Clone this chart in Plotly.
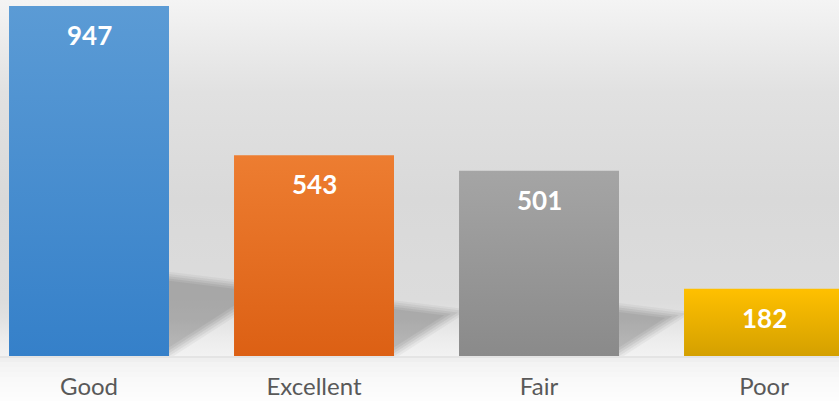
import plotly.graph_objects as go

categories = ["Good", "Excellent", "Fair", "Poor"]
values = [947, 543, 501, 182]
top_colors = ["#5b9bd5", "#ed7d31", "#a5a5a5", "#ffc000"]
bottom_colors = ["#3580c9", "#dc6014", "#8a8a8a", "#d4a000"]

W, H = 839, 401
BAR_W = 0.711
X_RANGE = [-0.3956, 3.3333]
Y_TOP = 963.2
MB = 45

fig = go.Figure()

# background wall gradient
fig.add_trace(go.Scatter(
    x=[X_RANGE[0], X_RANGE[1], X_RANGE[1], X_RANGE[0], X_RANGE[0]],
    y=[0, 0, Y_TOP, Y_TOP, 0], fill="toself", mode="none",
    fillgradient=dict(type="vertical", start=0, stop=Y_TOP,
                      colorscale=[[0, "#f2f2f2"], [0.05, "#ececec"], [0.11, "#e1e1e1"],
                                  [0.16, "#dcdcdc"], [0.44, "#d9d9d9"], [0.74, "#e1e1e1"],
                                  [1, "#f4f4f4"]]),
    hoverinfo="skip", showlegend=False))

# soft shadows behind bars (derived from the bar values)
gap = 1 - BAR_W
RISE, FALL = 390.0, 75.0
for i, v in enumerate(values[:-1]):
    xr = i + BAR_W / 2
    for grow, alpha in [(14, 0.04), (8, 0.05), (2, 0.06), (-4, 0.06), (-10, 0.05)]:
        h = 0.19 * v + 34 + grow
        y0 = 10 - grow * 1.3
        t = (h - y0) / (RISE + FALL)
        if t < gap:
            xs = [xr, xr, xr + t, xr]
            ys = [y0, h, h - FALL * t, y0]
        else:
            xs = [xr, xr, xr + gap, xr + gap, xr]
            ys = [y0, h, h - FALL * gap, y0 + RISE * gap, y0]
        fig.add_trace(go.Scatter(x=xs, y=ys, fill="toself", mode="none",
                                 fillcolor=f"rgba(0,0,0,{alpha})",
                                 hoverinfo="skip", showlegend=False))

# bars with vertical gradients
for i, (v, ct, cb) in enumerate(zip(values, top_colors, bottom_colors)):
    x0, x1 = i - BAR_W / 2, i + BAR_W / 2
    fig.add_trace(go.Scatter(
        x=[x0, x1, x1, x0, x0], y=[0, 0, v, v, 0], fill="toself", mode="none",
        fillgradient=dict(type="vertical", colorscale=[[0, cb], [1, ct]]),
        hoverinfo="skip", showlegend=False, name=categories[i]))
    fig.add_annotation(x=i, y=v, text=f"<b>{v}</b>", showarrow=False,
                       yanchor="middle", yshift=-29,
                       font=dict(family="Lato", size=26, color="white"))

# floor below the baseline
floor_cols = ["#e4e4e4", "#efefef", "#f3f3f3", "#f5f5f5", "#f7f7f7",
              "#f9f9f9", "#fafafa", "#fbfbfb", "#fcfcfc", "#fdfdfd"]
ph = MB / (H - MB)
edges = [0, 2, 6, 11, 16, 21, 26, 31, 36, 41, 45]
for k, c in enumerate(floor_cols):
    fig.add_shape(type="rect", xref="paper", yref="paper", x0=0, x1=1,
                  y0=-ph * edges[k] / MB, y1=-ph * edges[k + 1] / MB, line_width=0,
                  fillcolor=c, layer="below")

fig.update_layout(
    width=W, height=H, margin=dict(l=0, r=0, t=0, b=MB),
    paper_bgcolor="#fdfdfd", plot_bgcolor="#dcdcdc",
    showlegend=False,
    xaxis=dict(range=X_RANGE, tickvals=list(range(len(categories))), ticktext=categories,
               showgrid=False, zeroline=False, showline=False, ticks="",
               ticklabelstandoff=14,
               tickfont=dict(family="Lato", size=24, color="#595959")),
    yaxis=dict(range=[0, Y_TOP], visible=False, showgrid=False),
)

fig.write_html("out.html", config={"displayModeBar": False},
               post_script="document.body.style.margin='0px';document.body.style.overflow='hidden';")
